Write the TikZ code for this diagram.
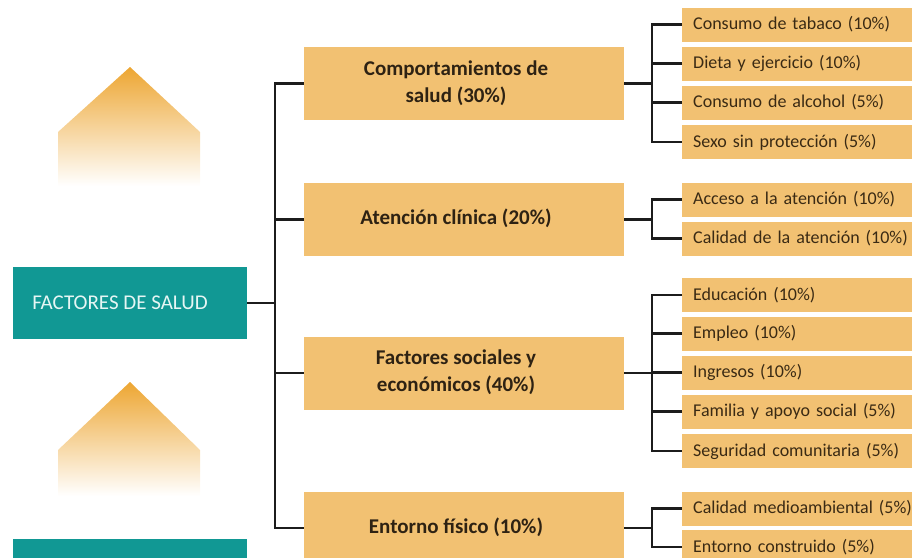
\documentclass[tikz,border=0pt]{standalone}
\usepackage{fontspec}
\setmainfont{Carlito}
\definecolor{boxfill}{HTML}{F2C172}
\definecolor{tealfill}{HTML}{119894}
\definecolor{linecol}{HTML}{1C1C1C}
\definecolor{midtext}{HTML}{2E2213}
\definecolor{subtext}{HTML}{3A2A14}
\definecolor{tealtext}{HTML}{E6F6F4}
\definecolor{housetop}{HTML}{EDA632}
\definecolor{housemid}{HTML}{F3C472}
\newcommand{\midlines}[1]{\begin{tabular}{@{}c@{}}#1\end{tabular}\hspace*{16pt}}
\tikzset{
  tealbox/.style={rectangle, fill=tealfill, minimum width=234pt, minimum height=72pt, inner sep=0pt,
    text=tealtext, font=\fontsize{21}{25}\selectfont},
  midbox/.style={rectangle, fill=boxfill, minimum width=320pt, minimum height=73pt, inner sep=0pt,
    text=midtext, font=\fontsize{21}{27}\selectfont\bfseries},
  subbox/.style={rectangle, fill=boxfill, anchor=west, minimum width=250pt, minimum height=34pt,
    inner xsep=11pt, inner ysep=0pt, text width=228pt, align=left, text=subtext,
    font=\fontsize{18}{20}\selectfont},
  conn/.style={draw=linecol, line width=2.3pt},
  house/.style={top color=housetop, middle color=housemid, bottom color=white, draw=none}
}
\begin{document}
\begin{tikzpicture}[x=1pt,y=-1pt]
\useasboundingbox (0,0) rectangle (912,557);
\clip (0,0) rectangle (912,557);
% houses
\shade[house] (58,132) -- (130,67) -- (200,132) -- (200,186) -- (58,186) -- cycle;
\shade[house] (58,450) -- (130,382) -- (200,450) -- (200,496) -- (58,496) -- cycle;
% teal boxes
\node[tealbox] (f) at (130,303) {FACTORES DE SALUD\hspace*{20pt}};
\node[tealbox] (f2) at (130,575) {};
% middle boxes
\node[midbox] (m1) at (464,83.5) {\midlines{Comportamientos de\\salud (30\%)}};
\node[midbox] (m2) at (464,219.5) {\midlines{Atención clínica (20\%)}};
\node[midbox] (m3) at (464,373) {\midlines{Factores sociales y\\económicos (40\%)}};
\node[midbox] (m4) at (464,528) {\midlines{Entorno físico (10\%)}};
% right boxes
\node[subbox] (r11) at (682,24.5) {Consumo de tabaco (10\%)};
\node[subbox] (r12) at (682,63.5) {Dieta y ejercicio (10\%)};
\node[subbox] (r13) at (682,102.5) {Consumo de alcohol (5\%)};
\node[subbox] (r14) at (682,142) {Sexo sin protección (5\%)};
\node[subbox] (r21) at (682,199.5) {Acceso a la atención (10\%)};
\node[subbox] (r22) at (682,238.5) {Calidad de la atención (10\%)};
\node[subbox] (r31) at (682,295) {Educación (10\%)};
\node[subbox] (r32) at (682,333.5) {Empleo (10\%)};
\node[subbox] (r33) at (682,372.5) {Ingresos (10\%)};
\node[subbox] (r34) at (682,411.5) {Familia y apoyo social (5\%)};
\node[subbox] (r35) at (682,451) {Seguridad comunitaria (5\%)};
\node[subbox] (r41) at (682,508.5) {Calidad medioambiental (5\%)};
\node[subbox] (r42) at (682,547) {Entorno construido (5\%)};
% trunk
\coordinate (t) at (275,303);
\draw[conn] (f.east) -- (t);
\draw[conn] (m1.west) -- (m1.west -| t) -- (m4.west -| t) -- (m4.west);
\draw[conn] (m2.west) -- (m2.west -| t);
\draw[conn] (m3.west) -- (m3.west -| t);
% branch groups
\coordinate (b1) at (652,83.5);
\coordinate (b2) at (652,219.5);
\coordinate (b3) at (652,373);
\coordinate (b4) at (652,528);
\draw[conn] (m1.east) -- (b1);
\draw[conn] (r11.west) -- (r11.west -| b1) -- (r14.west -| b1) -- (r14.west);
\draw[conn] (r12.west) -- (r12.west -| b1);
\draw[conn] (r13.west) -- (r13.west -| b1);
\draw[conn] (m2.east) -- (b2);
\draw[conn] (r21.west) -- (r21.west -| b2) -- (r22.west -| b2) -- (r22.west);
\draw[conn] (m3.east) -- (b3);
\draw[conn] (r31.west) -- (r31.west -| b3) -- (r35.west -| b3) -- (r35.west);
\draw[conn] (r32.west) -- (r32.west -| b3);
\draw[conn] (r33.west) -- (r33.west -| b3);
\draw[conn] (r34.west) -- (r34.west -| b3);
\draw[conn] (m4.east) -- (b4);
\draw[conn] (r41.west) -- (r41.west -| b4) -- (r42.west -| b4) -- (r42.west);
\end{tikzpicture}
\end{document}
